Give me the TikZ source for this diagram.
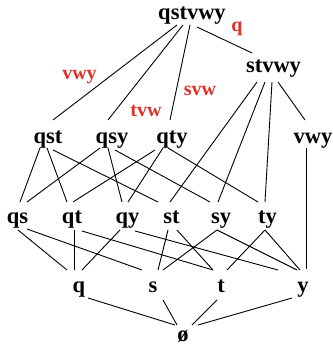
\documentclass[tikz,border=0pt]{standalone}
\usepackage{fontspec}
\setmainfont{Liberation Serif}
\definecolor{labelred}{RGB}{226,48,38}
\tikzset{
  elem/.style={inner sep=0pt, anchor=base, font=\fontsize{22.5}{24}\selectfont\bfseries},
  gen/.style={inner sep=0pt, anchor=base, text=labelred, font=\fontsize{20}{22}\selectfont\bfseries},
  link/.style={line width=0.9pt, line cap=butt}
}
% \lnk{from}{offset}{to}{offset}: offsets are taken from each node's baseline centre
\newcommand\lnk[4]{\draw[link] ([shift={#2}]#1.base) -- ([shift={#4}]#3.base);}
\begin{document}
\begin{tikzpicture}[x=1pt,y=-1pt]
\useasboundingbox (0,0) rectangle (332,350);

% lattice elements
\node[elem] (qstvwy) at (192,20) {qstvwy};
\node[elem] (stvwy)  at (273.5,73) {stvwy};

\node[elem] (qst) at (48,143) {qst};
\node[elem] (qsy) at (112,143) {qsy};
\node[elem] (qty) at (172,143) {qty};
\node[elem] (vwy) at (313,143) {vwy};

\node[elem] (qs) at (17.5,223) {qs};
\node[elem] (qt) at (72,223) {qt};
\node[elem] (qy) at (127.5,223) {qy};
\node[elem] (st) at (171.5,223) {st};
\node[elem] (sy) at (221,223) {sy};
\node[elem] (ty) at (267.5,223) {ty};

\node[elem] (q) at (79,292) {q};
\node[elem] (s) at (153,292) {s};
\node[elem] (t) at (221,292) {t};
\node[elem] (y) at (303,292) {y};

\node[elem] (empty) at (183,341) {ø};

% generator labels
\node[gen] (gq)   at (237,32) {q};
\node[gen] (gvwy) at (79.5,80) {vwy};
\node[gen] (gtvw) at (146,116.5) {tvw};
\node[gen] (gsvw) at (200,95.5) {svw};

% top level
\lnk{qstvwy}{(-15,5)}{qst}{(5,-23)}
\lnk{qstvwy}{(-9,5)}{qsy}{(-4,-23)}
\lnk{qstvwy}{(-2,5)}{qty}{(-2,-23)}
\lnk{qstvwy}{(5,7)}{stvwy}{(-21.5,-20)}

\lnk{stvwy}{(-16.5,9)}{st}{(-1.5,-21)}
\lnk{stvwy}{(-8.5,9)}{sy}{(-3,-21)}
\lnk{stvwy}{(-1.5,9)}{ty}{(-2.5,-21)}
\lnk{stvwy}{(4.5,9)}{vwy}{(-8,-23)}

% three-element sets
\lnk{qst}{(-8,5)}{qs}{(2.5,-21)}
\lnk{qst}{(-1,5)}{qt}{(-5,-21)}
\lnk{qst}{(5,7)}{st}{(-13.5,-21)}

\lnk{qsy}{(-12,5)}{qs}{(9.5,-21)}
\lnk{qsy}{(-4,5)}{qy}{(-5.5,-21)}
\lnk{qsy}{(3,7)}{sy}{(-11,-21)}

\lnk{qty}{(-17,7)}{qt}{(1,-21)}
\lnk{qty}{(-9,5)}{qy}{(0.5,-21)}
\lnk{qty}{(-4,5)}{ty}{(-9.5,-21)}

\lnk{vwy}{(-7,5)}{y}{(3,-23)}

% pairs
\lnk{qs}{(0.5,7)}{q}{(-12,-22)}
\lnk{qs}{(9.5,6)}{s}{(-11,-22)}
\lnk{qt}{(2,7)}{q}{(-5,-22)}
\lnk{qt}{(10,8)}{t}{(-8,-22)}
\lnk{qy}{(-7.5,7)}{q}{(3,-22)}
\lnk{qy}{(7.5,8)}{y}{(-25,-22)}
\lnk{st}{(-3.5,7)}{s}{(5,-22)}
\lnk{st}{(5.5,7)}{t}{(-8,-22)}
\lnk{sy}{(-4,7)}{s}{(10,-22)}
\lnk{sy}{(-4,7)}{y}{(-6,-22)}
\lnk{ty}{(-2.5,7)}{t}{(6,-22)}
\lnk{ty}{(-2.5,7)}{y}{(-3,-22)}

% singletons to the empty set
\lnk{q}{(9,6)}{empty}{(-8,-16)}
\lnk{s}{(10,8)}{empty}{(-6,-16)}
\lnk{t}{(-4,8)}{empty}{(9,-16)}
\lnk{y}{(-11,6)}{empty}{(15,-16)}
\end{tikzpicture}
\end{document}
